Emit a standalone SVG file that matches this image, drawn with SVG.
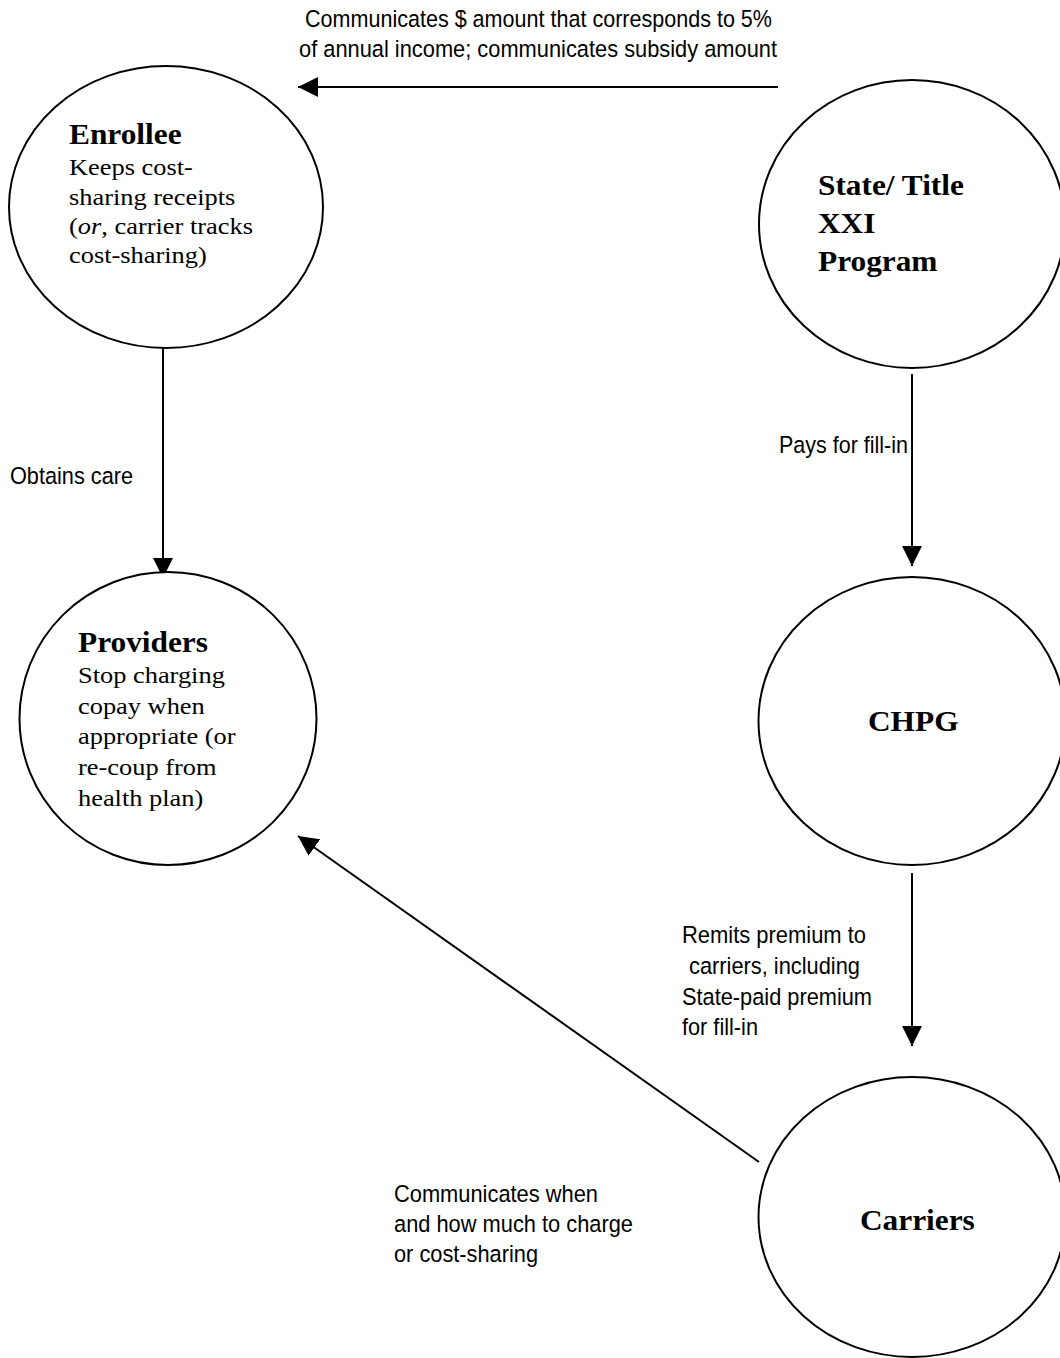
<svg xmlns="http://www.w3.org/2000/svg" width="1060" height="1358" viewBox="0 0 1060 1358">
  <style>
    .node { fill: #ffffff; stroke: #000000; stroke-width: 2; }
    .edge { stroke: #000000; stroke-width: 2; fill: none; marker-end: url(#arrow); }
    .title { font-family: "Liberation Serif", "Times New Roman", serif; font-weight: bold; font-size: 28.5px; fill: #000; }
    .body { font-family: "Liberation Serif", "Times New Roman", serif; font-size: 24px; fill: #000; }
    .label { font-family: "Liberation Sans Narrow", "Liberation Sans", Arial, sans-serif; font-size: 24.5px; fill: #000; }
  </style>
  <defs>
    <marker id="arrow" markerUnits="userSpaceOnUse" markerWidth="20" markerHeight="20" refX="20" refY="10" orient="auto">
      <path d="M0,0 L20,10 L0,20 Z" fill="#000000"/>
    </marker>
  </defs>
  <rect x="0" y="0" width="1060" height="1358" fill="#ffffff"/>

  <!-- connectors -->
  <g id="connectors">
    <line class="edge" x1="778" y1="87" x2="298" y2="87"/>
    <line class="edge" x1="163" y1="348" x2="163" y2="578"/>
    <line class="edge" x1="912" y1="374" x2="912" y2="566"/>
    <line class="edge" x1="912" y1="873" x2="912" y2="1046"/>
    <line class="edge" x1="759" y1="1162" x2="298" y2="836"/>
  </g>

  <!-- connector labels -->
  <g id="edge-labels">
    <text class="label" x="305" y="27" textLength="467" lengthAdjust="spacingAndGlyphs">Communicates $ amount that corresponds to 5%</text>
    <text class="label" x="299" y="57" textLength="478" lengthAdjust="spacingAndGlyphs">of annual income; communicates subsidy amount</text>
    <text class="label" x="10" y="484" textLength="123" lengthAdjust="spacingAndGlyphs">Obtains care</text>
    <text class="label" x="779" y="453" textLength="129" lengthAdjust="spacingAndGlyphs">Pays for fill-in</text>
    <text class="label" x="682" y="943" textLength="184" lengthAdjust="spacingAndGlyphs">Remits premium to</text>
    <text class="label" x="689" y="974" textLength="171" lengthAdjust="spacingAndGlyphs">carriers, including</text>
    <text class="label" x="682" y="1005" textLength="190" lengthAdjust="spacingAndGlyphs">State-paid premium</text>
    <text class="label" x="682" y="1035" textLength="76" lengthAdjust="spacingAndGlyphs">for fill-in</text>
    <text class="label" x="394" y="1202" textLength="204" lengthAdjust="spacingAndGlyphs">Communicates when</text>
    <text class="label" x="394" y="1232" textLength="239" lengthAdjust="spacingAndGlyphs">and how much to charge</text>
    <text class="label" x="394" y="1262" textLength="144" lengthAdjust="spacingAndGlyphs">or cost-sharing</text>
  </g>

  <!-- Enrollee -->
  <g id="enrollee">
    <ellipse class="node" cx="166" cy="207" rx="157" ry="141"/>
    <g transform="translate(69,0) scale(1.1,1)">
      <text class="title" x="0" y="144">Enrollee</text>
      <text class="body" x="0" y="175">Keeps cost-</text>
      <text class="body" x="0" y="205">sharing receipts</text>
      <text class="body" x="0" y="234">(<tspan font-style="italic">or</tspan>, carrier tracks</text>
      <text class="body" x="0" y="263">cost-sharing)</text>
    </g>
  </g>

  <!-- Providers -->
  <g id="providers">
    <ellipse class="node" cx="168" cy="718.5" rx="148.5" ry="146.5"/>
    <g transform="translate(78,0) scale(1.1,1)">
      <text class="title" x="0" y="652">Providers</text>
      <text class="body" x="0" y="683">Stop charging</text>
      <text class="body" x="0" y="714">copay when</text>
      <text class="body" x="0" y="744">appropriate (or</text>
      <text class="body" x="0" y="775">re-coup from</text>
      <text class="body" x="0" y="806">health plan)</text>
    </g>
  </g>

  <!-- State / Title XXI Program -->
  <g id="state-program">
    <ellipse class="node" cx="912" cy="224" rx="153" ry="144"/>
    <g transform="translate(818,0) scale(1.1,1)">
      <text class="title" x="0" y="195">State/ Title</text>
      <text class="title" x="0" y="233">XXI</text>
      <text class="title" x="0" y="271">Program</text>
    </g>
  </g>

  <!-- CHPG -->
  <g id="chpg">
    <ellipse class="node" cx="912" cy="721" rx="153.5" ry="144"/>
    <g transform="translate(868,0) scale(1.1,1)">
      <text class="title" x="0" y="731">CHPG</text>
    </g>
  </g>

  <!-- Carriers -->
  <g id="carriers">
    <ellipse class="node" cx="912" cy="1217" rx="153.5" ry="140"/>
    <g transform="translate(860,0) scale(1.1,1)">
      <text class="title" x="0" y="1230">Carriers</text>
    </g>
  </g>
</svg>
